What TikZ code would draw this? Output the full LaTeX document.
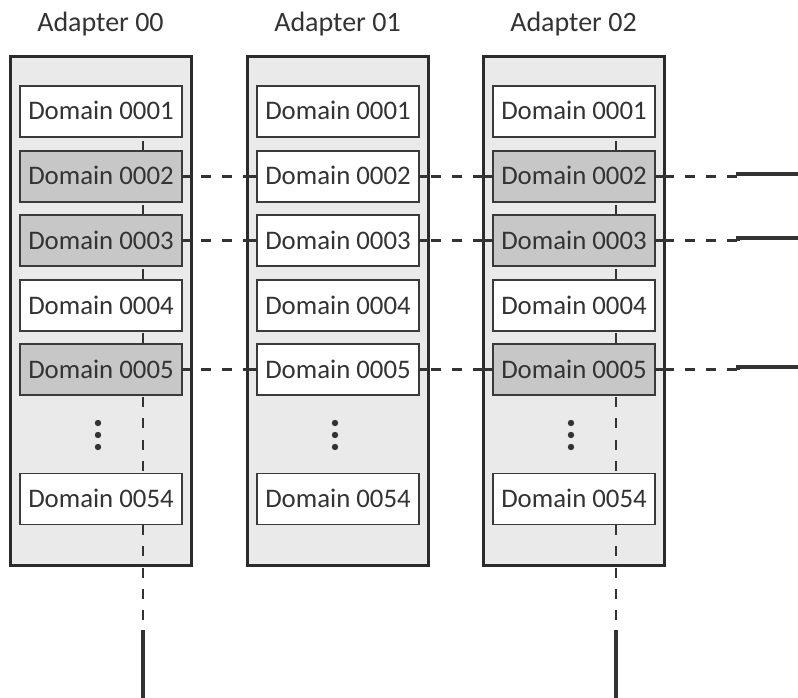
\documentclass[tikz,border=0pt]{standalone}
\usepackage{fontspec}
\setmainfont{Carlito}
\definecolor{framec}{HTML}{2B2B2B}
\definecolor{framefill}{HTML}{E9EAE9}
\definecolor{domc}{HTML}{3A3A3A}
\definecolor{grayfill}{HTML}{C6C7C6}
\definecolor{txt}{HTML}{333333}
\definecolor{linec}{HTML}{333333}
\begin{document}
\begin{tikzpicture}[x=1pt,y=-1pt,
  frame/.style={draw=framec, fill=framefill, line width=3pt, minimum width=181pt, minimum height=508pt, inner sep=0pt, outer sep=0pt},
  dom/.style={draw=domc, line width=1.6pt, minimum width=162pt, minimum height=51pt, inner sep=0pt, outer sep=0pt, text height=17pt, text depth=0pt, font=\fontsize{26.8}{30}\selectfont, text=txt},
  wdom/.style={dom, fill=white},
  gdom/.style={dom, fill=grayfill},
  lbl/.style={anchor=base, font=\fontsize{28}{32}\selectfont, text=txt},
  conn/.style={draw=linec, line width=2.2pt},
  dconn/.style={conn, dash pattern=on 10pt off 11pt},
  vconn/.style={conn, dash pattern=on 10pt off 11.3pt},
  tail/.style={draw=linec, line width=3.8pt}
]
\useasboundingbox (0,0) rectangle (798,698);

% frames
\node[frame] (f0) at (100.5,311) {};
\node[frame] (f1) at (337.5,311) {};
\node[frame] (f2) at (573.5,311) {};

% labels
\node[lbl] (l0) at (100.5,32) {Adapter 00};
\node[lbl] (l1) at (337.5,32) {Adapter 01};
\node[lbl] (l2) at (573.5,32) {Adapter 02};

% vertical lines (behind domains)
\coordinate (v0a) at (143,141.5);
\coordinate (v0b) at (143,624);
\coordinate (v0c) at (143,630);
\coordinate (v0d) at (143,698);
\coordinate (v2a) at (616,141.5);
\coordinate (v2b) at (616,624);
\coordinate (v2c) at (616,630);
\coordinate (v2d) at (616,698);
\draw[vconn] (v0a) -- (v0b);
\draw[vconn] (v2a) -- (v2b);
\draw[tail] (v0c) -- (v0d);
\draw[tail] (v2c) -- (v2d);

% adapter 00
\node[wdom] (d0-1) at (101,111.5) {Domain 0001};
\node[gdom] (d0-2) at (101,176.5) {Domain 0002};
\node[gdom] (d0-3) at (101,240.5) {Domain 0003};
\node[wdom] (d0-4) at (101,305.5) {Domain 0004};
\node[gdom] (d0-5) at (101,369.5) {Domain 0005};
\node[wdom] (d0-6) at (101,499) {Domain 0054};
% adapter 01
\node[wdom] (d1-1) at (338,111.5) {Domain 0001};
\node[wdom] (d1-2) at (338,176.5) {Domain 0002};
\node[wdom] (d1-3) at (338,240.5) {Domain 0003};
\node[wdom] (d1-4) at (338,305.5) {Domain 0004};
\node[wdom] (d1-5) at (338,369.5) {Domain 0005};
\node[wdom] (d1-6) at (338,499) {Domain 0054};
% adapter 02
\node[wdom] (d2-1) at (574,111.5) {Domain 0001};
\node[gdom] (d2-2) at (574,176.5) {Domain 0002};
\node[gdom] (d2-3) at (574,240.5) {Domain 0003};
\node[wdom] (d2-4) at (574,305.5) {Domain 0004};
\node[gdom] (d2-5) at (574,369.5) {Domain 0005};
\node[wdom] (d2-6) at (574,499) {Domain 0054};

% dots
\foreach \x in {98,335,571} {
  \foreach \y in {423,435,447} {
    \fill[linec] (\x,\y) circle (3.2pt);
  }
}

% horizontal connectors
\foreach \r/\y in {2/176.5,3/240.5,5/369.5} {
  \coordinate (t-\r) at (738,\y);
  \coordinate (e-\r) at (798,\y-2.5);
  \draw[conn] (d0-\r.east) -- (d0-\r.east -| f0.east);
  \draw[dconn, dash phase=11pt] (d0-\r.east -| f0.east) -- (d1-\r.west -| f1.west);
  \draw[conn] (d1-\r.west -| f1.west) -- (d1-\r.west);
  \draw[conn] (d1-\r.east) -- (d1-\r.east -| f1.east);
  \draw[dconn, dash phase=18pt] (d1-\r.east -| f1.east) -- (d2-\r.west -| f2.west);
  \draw[conn] (d2-\r.west -| f2.west) -- (d2-\r.west);
  \draw[conn] (d2-\r.east) -- (d2-\r.east -| f2.east);
  \draw[dconn] (d2-\r.east -| f2.east) -- (t-\r);
  \draw[tail] (t-\r) |- (e-\r);
}
\end{tikzpicture}
\end{document}
